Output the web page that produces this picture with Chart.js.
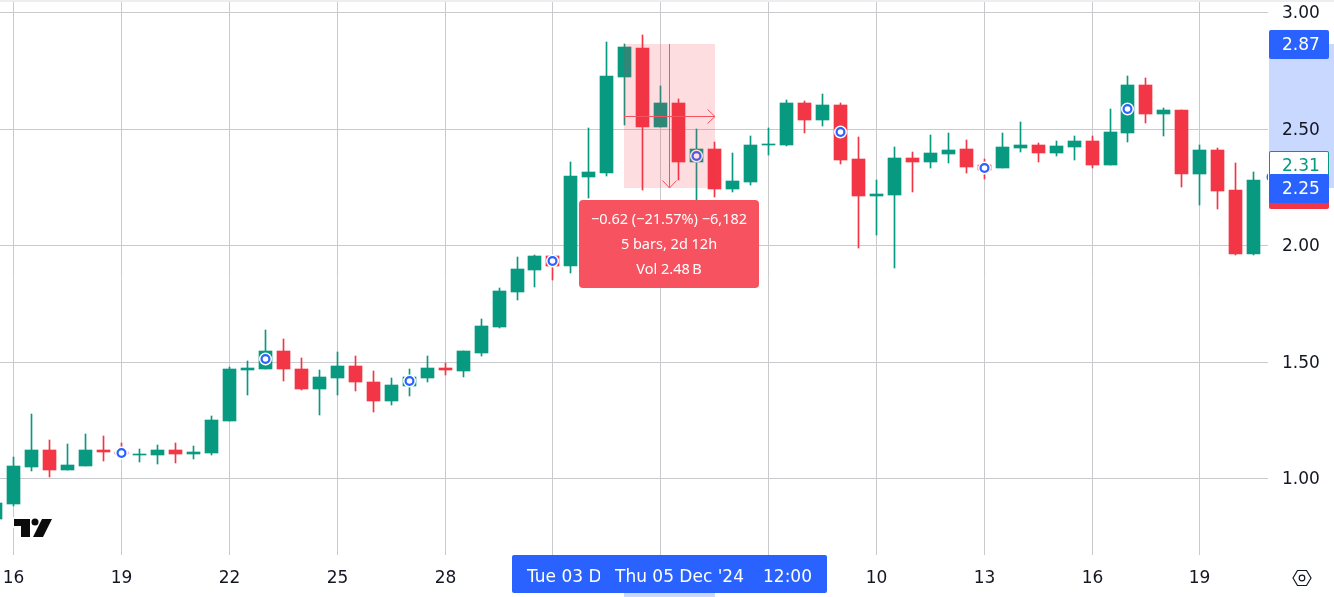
<!DOCTYPE html>
<html>
<head>
<meta charset="utf-8">
<title>Candles</title>
<script src="https://cdn.jsdelivr.net/npm/chart.js@4"></script>
<style>
  html, body { margin: 0; padding: 0; background: #fff; overflow: hidden; }
  canvas { display: block; }
</style>
</head>
<body>
<canvas id="chart" width="1334" height="597"></canvas>
<script>
// 12h candles, first one sits just off the left edge (index -1)
const opens = [0.826, 0.891, 1.049, 1.122, 1.036, 1.054, 1.122, 1.114, 1.101, 1.101, 1.122, 1.105, 1.109, 1.247, 1.466, 1.470, 1.547, 1.470, 1.384, 1.431, 1.483, 1.414, 1.333, 1.397, 1.431, 1.474, 1.461, 1.539, 1.650, 1.800, 1.895, 1.955, 1.912, 2.294, 2.311, 2.723, 2.848, 2.509, 2.612, 2.358, 2.414, 2.243, 2.273, 2.431, 2.431, 2.612, 2.539, 2.603, 2.371, 2.212, 2.217, 2.376, 2.358, 2.393, 2.414, 2.346, 2.333, 2.418, 2.431, 2.397, 2.423, 2.449, 2.346, 2.483, 2.689, 2.564, 2.582, 2.307, 2.410, 2.238, 1.964];
const closes = [0.895, 1.054, 1.122, 1.036, 1.058, 1.122, 1.114, 1.105, 1.105, 1.122, 1.105, 1.114, 1.251, 1.470, 1.474, 1.547, 1.470, 1.384, 1.436, 1.483, 1.414, 1.333, 1.401, 1.436, 1.474, 1.466, 1.547, 1.655, 1.805, 1.899, 1.955, 1.912, 2.298, 2.315, 2.727, 2.852, 2.509, 2.612, 2.358, 2.414, 2.243, 2.277, 2.431, 2.436, 2.612, 2.539, 2.603, 2.367, 2.212, 2.221, 2.376, 2.358, 2.397, 2.410, 2.337, 2.324, 2.423, 2.431, 2.397, 2.427, 2.449, 2.346, 2.487, 2.689, 2.564, 2.582, 2.307, 2.410, 2.234, 1.964, 2.281];
const highs = [0.895, 1.092, 1.277, 1.165, 1.148, 1.191, 1.182, 1.152, 1.127, 1.144, 1.152, 1.140, 1.268, 1.479, 1.504, 1.637, 1.598, 1.517, 1.466, 1.543, 1.526, 1.461, 1.431, 1.470, 1.526, 1.496, 1.547, 1.685, 1.818, 1.951, 1.959, 1.955, 2.358, 2.504, 2.873, 2.865, 2.903, 2.685, 2.629, 2.500, 2.444, 2.397, 2.470, 2.504, 2.624, 2.620, 2.650, 2.612, 2.466, 2.281, 2.423, 2.401, 2.474, 2.483, 2.453, 2.371, 2.483, 2.530, 2.440, 2.449, 2.470, 2.470, 2.586, 2.727, 2.719, 2.590, 2.582, 2.431, 2.418, 2.354, 2.315];
const lows = [0.826, 0.882, 1.032, 1.006, 1.036, 1.054, 1.075, 1.097, 1.071, 1.062, 1.067, 1.084, 1.101, 1.247, 1.358, 1.470, 1.418, 1.380, 1.273, 1.358, 1.376, 1.285, 1.315, 1.354, 1.414, 1.444, 1.436, 1.526, 1.646, 1.766, 1.822, 1.852, 1.882, 2.204, 2.298, 2.517, 2.238, 2.509, 2.281, 2.174, 2.208, 2.230, 2.260, 2.388, 2.427, 2.483, 2.513, 2.350, 1.989, 2.045, 1.904, 2.230, 2.333, 2.354, 2.311, 2.285, 2.333, 2.401, 2.358, 2.384, 2.367, 2.333, 2.346, 2.444, 2.526, 2.470, 2.251, 2.174, 2.157, 1.959, 1.959];

const markerIndex = [6, 14, 22, 30, 38, 46, 54, 62, 70];
const markerPrice = [1.109, 1.513, 1.418, 1.934, 2.384, 2.487, 2.333, 2.586, 2.294];

const dayTickIndex = [0, 6, 12, 18, 24, 30, 36, 42, 48, 54, 60, 66];
const dayTickLabels = ["16", "19", "22", "25", "28", "", "", "", "10", "13", "16", "19"];
const priceTicks = [1, 1.5, 2, 2.5, 3];

// measure tool, from bar 34 to bar 39
const measureFromIndex = 34;
const measureToIndex = 39;
const measureFromPrice = 2.865;
const measureToPrice = 2.245;
const measureLines = ["\u22120.62 (\u221221.57%) \u22126,182", "5 bars, 2d 12h", "Vol 2.48\u2009B"];

const GREEN = "#089981";
const RED = "#F23645";
const BLUE = "#2962FF";
const GRID = "#c9cace";
const TEXT = "#131722";
const FONT = '"DejaVu Sans", sans-serif';
const NOTE_FONT = '"Noto Sans", sans-serif';

const isUp = (i) => closes[i] >= opens[i];
const candleColors = opens.map((_, i) => (isUp(i) ? GREEN : RED));
const barX = (i) => i - 1;

function roundRect(ctx, x, y, w, h, r, fill) {
  ctx.beginPath();
  ctx.roundRect(x, y, w, h, r);
  ctx.fillStyle = fill;
  ctx.fill();
}

function label(ctx, text, x, y, color, size, align = "left", family = FONT) {
  ctx.fillStyle = color;
  ctx.font = `${size}px ${family}`;
  ctx.textAlign = align;
  ctx.textBaseline = "middle";
  ctx.fillText(text, x, y);
}

// pane and axis backgrounds, under the tick labels
const backdrop = {
  id: "backdrop",
  beforeDraw(chart) {
    const { ctx } = chart;
    const yScale = chart.scales.y;
    const xScale = chart.scales.x;
    const top = yScale.getPixelForValue(measureFromPrice);
    const bottom = yScale.getPixelForValue(measureToPrice);
    const left = xScale.getPixelForValue(measureFromIndex) - 0.5;
    const right = xScale.getPixelForValue(measureToIndex) + 0.5;
    ctx.save();
    ctx.fillStyle = "#eeeeee";
    ctx.fillRect(0, 0, 1334, 2);
    ctx.fillStyle = "#c9d8fe";
    ctx.fillRect(1269, top, 65, bottom - top);
    ctx.fillRect(left, 555, right - left, 42);
    ctx.restore();
  },
};

// measure box, its arrows and the axis labels on top of the candles
const overlay = {
  id: "overlay",
  afterDraw(chart) {
    const { ctx } = chart;
    const yScale = chart.scales.y;
    const xScale = chart.scales.x;
    const top = yScale.getPixelForValue(measureFromPrice);
    const bottom = yScale.getPixelForValue(measureToPrice);
    const left = xScale.getPixelForValue(measureFromIndex) - 0.5;
    const right = xScale.getPixelForValue(measureToIndex) + 0.5;
    const midX = xScale.getPixelForValue((measureFromIndex + measureToIndex) / 2);
    const midY = yScale.getPixelForValue((measureFromPrice + measureToPrice) / 2) + 0.5;

    ctx.save();
    ctx.fillStyle = "rgba(242, 54, 69, 0.17)";
    ctx.fillRect(left, top, right - left, bottom - top);

    ctx.strokeStyle = "#F7525F";
    ctx.lineWidth = 1;
    ctx.beginPath();
    ctx.moveTo(left, midY);
    ctx.lineTo(right, midY);
    ctx.moveTo(right - 7.5, midY - 7);
    ctx.lineTo(right, midY);
    ctx.lineTo(right - 7.5, midY + 7);
    ctx.moveTo(midX, top);
    ctx.lineTo(midX, bottom);
    ctx.moveTo(midX - 7, bottom - 7.5);
    ctx.lineTo(midX, bottom);
    ctx.lineTo(midX + 7, bottom - 7.5);
    ctx.stroke();

    roundRect(ctx, 579, 200, 180, 88, 4, "#F7525F");
    label(ctx, measureLines[0], 669, 220, "#fff", 14.5, "center", NOTE_FONT);
    label(ctx, measureLines[1], 669, 245, "#fff", 14.5, "center", NOTE_FONT);
    label(ctx, measureLines[2], 669, 270, "#fff", 14.5, "center", NOTE_FONT);

    // price axis labels
    roundRect(ctx, 1269, 180, 60, 29, 2, RED);
    roundRect(ctx, 1269, 151, 60, 29, 2, GREEN);
    roundRect(ctx, 1270, 152, 58, 27, 1, "#fff");
    label(ctx, "2.31", 1282, 166.5, GREEN, 17);
    roundRect(ctx, 1269, 174, 60, 29, 2, BLUE);
    label(ctx, "2.25", 1282, 190, "#fff", 17);
    roundRect(ctx, 1269, 30, 60, 29, 2, BLUE);
    label(ctx, "2.87", 1282, 46, "#fff", 17);

    // time axis labels, the earlier one is cut by the later one
    roundRect(ctx, 512, 555, 315, 38, 2, BLUE);
    ctx.save();
    ctx.beginPath();
    ctx.rect(512, 555, 88, 38);
    ctx.clip();
    label(ctx, "Tue 03 Dec '24", 527, 578, "#fff", 17);
    ctx.restore();
    label(ctx, "Thu 05 Dec '24", 615, 578, "#fff", 17);
    label(ctx, "12:00", 763, 578, "#fff", 17);

    // settings hexagon
    ctx.strokeStyle = TEXT;
    ctx.lineWidth = 1.2;
    ctx.beginPath();
    ctx.moveTo(1293, 578);
    ctx.lineTo(1297.5, 570.5);
    ctx.lineTo(1306.5, 570.5);
    ctx.lineTo(1311, 578);
    ctx.lineTo(1306.5, 585.5);
    ctx.lineTo(1297.5, 585.5);
    ctx.closePath();
    ctx.stroke();
    ctx.beginPath();
    ctx.arc(1302, 578, 2.8, 0, Math.PI * 2);
    ctx.stroke();

    // logo
    const logo = new Path2D("M14 519H30V537H21V526H14Z M42 519H52L43 537H33Z");
    ctx.strokeStyle = "#fff";
    ctx.lineWidth = 4;
    ctx.stroke(logo);
    ctx.beginPath();
    ctx.arc(35, 522, 5, 0, Math.PI * 2);
    ctx.fillStyle = "#fff";
    ctx.fill();
    ctx.fillStyle = "#0b0b0c";
    ctx.fill(logo);
    ctx.beginPath();
    ctx.arc(35, 522, 3.5, 0, Math.PI * 2);
    ctx.fill();
    ctx.restore();
  },
};

const chart = new Chart(document.getElementById("chart"), {
  type: "bar",
  data: {
    datasets: [
      {
        type: "line",
        data: markerIndex.map((x, i) => ({ x, y: markerPrice[i] })),
        showLine: false,
        pointRadius: 3.9,
        pointBorderWidth: 2.2,
        pointBackgroundColor: "#fff",
        pointBorderColor: BLUE,
        order: 1,
      },
      {
        type: "line",
        data: markerIndex.map((x, i) => ({ x, y: markerPrice[i] })),
        showLine: false,
        pointRadius: 6.5,
        pointBorderWidth: 0,
        pointBackgroundColor: "#fff",
        order: 2,
      },
      {
        data: opens.map((o, i) => ({ x: barX(i), y: [o, closes[i]] })),
        backgroundColor: candleColors,
        barThickness: 13,
        grouped: false,
        borderWidth: 0,
        order: 3,
      },
      {
        data: lows.map((l, i) => ({ x: barX(i), y: [l, highs[i]] })),
        backgroundColor: candleColors,
        barThickness: 1,
        grouped: false,
        borderWidth: 0,
        order: 4,
      },
    ],
  },
  options: {
    responsive: false,
    animation: false,
    devicePixelRatio: 1,
    layout: { padding: { top: 2 } },
    plugins: { legend: { display: false }, tooltip: { enabled: false } },
    events: [],
    scales: {
      x: {
        type: "linear",
        offset: false,
        min: -0.7707,
        max: 69.791,
        grid: { color: GRID, drawTicks: false, offset: false },
        border: { display: false },
        ticks: {
          color: TEXT,
          font: { family: FONT, size: 17 },
          padding: 13,
          maxRotation: 0,
          autoSkip: false,
          callback: (value) => dayTickLabels[dayTickIndex.indexOf(value)],
        },
        afterBuildTicks(scale) {
          scale.ticks = dayTickIndex.map((value) => ({ value }));
        },
        afterFit(scale) {
          scale.height = 42;
          scale.paddingLeft = 0;
          scale.paddingRight = 0;
        },
        // candles sit on whole pixels
        afterUpdate(scale) {
          const proto = Object.getPrototypeOf(scale);
          scale.getPixelForValue = (v) => Math.floor(proto.getPixelForValue.call(scale, v)) + 0.5;
        },
      },
      y: {
        type: "linear",
        position: "right",
        min: 0.6704,
        max: 3.0438,
        grid: { color: GRID, drawTicks: false },
        border: { display: false },
        ticks: {
          color: TEXT,
          font: { family: FONT, size: 17 },
          padding: 14,
          labelOffset: 2,
          callback: (value) => value.toFixed(2),
        },
        afterBuildTicks(scale) {
          scale.ticks = priceTicks.map((value) => ({ value }));
        },
        afterFit(scale) {
          scale.width = 66;
          scale.paddingTop = 0;
          scale.paddingBottom = 0;
        },
        afterUpdate(scale) {
          const proto = Object.getPrototypeOf(scale);
          scale.getPixelForValue = (v) => Math.round(proto.getPixelForValue.call(scale, v));
        },
      },
    },
  },
  plugins: [backdrop, overlay],
});

// marker radius must not pad the chart area, the pane runs to the canvas edge
chart.getDatasetMeta(0).controller.getMaxOverflow = () => 0;
chart.getDatasetMeta(1).controller.getMaxOverflow = () => 0;
chart.update();
</script>
</body>
</html>
